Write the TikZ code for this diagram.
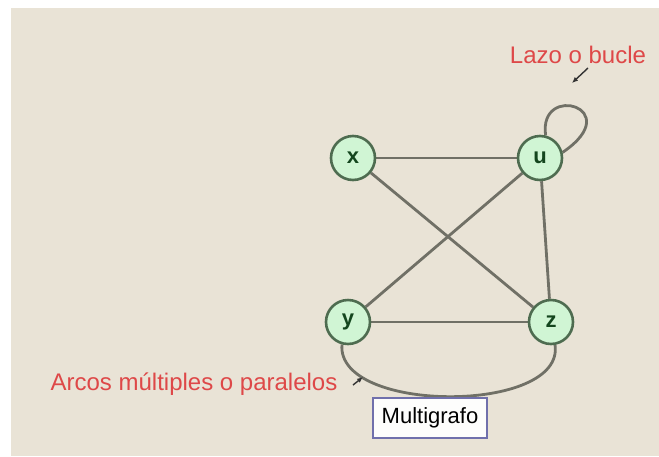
\documentclass[tikz,border=0pt]{standalone}
\usepackage{fontspec}
\setmainfont{Liberation Sans}
\usetikzlibrary{arrows.meta}
\pgfdeclarelayer{backdrop}
\pgfdeclarelayer{edges}
\pgfsetlayers{backdrop,edges,main}
\definecolor{paper}{RGB}{233,227,214}
\definecolor{vfill}{RGB}{208,245,212}
\definecolor{vdraw}{RGB}{78,108,80}
\definecolor{vtext}{RGB}{20,70,30}
\definecolor{edgec}{RGB}{112,112,102}
\definecolor{notec}{RGB}{222,72,72}
\definecolor{boxc}{RGB}{112,112,172}
\tikzset{
  vertex/.style={circle, minimum size=44pt, inner sep=0pt, fill=vfill, draw=vdraw,
    line width=2.6pt, text=vtext, font=\fontsize{22}{24}\selectfont\bfseries},
  edge/.style={draw=edgec, line width=2.8pt},
  note/.style={text=notec, font=\fontsize{24}{28}\selectfont, inner sep=0pt},
  pointer/.style={line width=1.4pt, -{Latex[length=6pt,width=5pt]}, black!80},
  titlebox/.style={draw=boxc, line width=2.4pt, fill=white!92!paper,
    minimum width=114pt, minimum height=40pt, font=\fontsize{22}{24}\selectfont,
    inner sep=0pt}
}
\begin{document}
\begin{tikzpicture}[x=1pt, y=-1pt]
  % page and backdrop
  \begin{pgfonlayer}{backdrop}
    \fill[white] (0,0) rectangle (659,456);
    \fill[paper] (11,8) rectangle (659,456);
  \end{pgfonlayer}
  \useasboundingbox (0,0) rectangle (659,456);

  % vertices
  \node[vertex] (x) at (353,158) {x};
  \node[vertex] (u) at (540,158) {u};
  \node[vertex] (y) at (348,322) {y};
  \node[vertex] (z) at (551,322) {z};

  % edges, kept under the vertices
  \begin{pgfonlayer}{edges}
    \path[edge] (x) -- (u);
    \path[edge] (x) -- (z);
    \path[edge] (u) -- (y);
    \path[edge] (u) -- (z);
    \path[edge] (y) -- (z);
    % parallel arc between y and z
    \path[edge] (y.-105) .. controls (336,414) and (565,414) .. (z.-80);
    % loop on u
    \path[edge] (u.76) .. controls (538,82) and (628,108) .. (u.14);
  \end{pgfonlayer}

  % annotations
  \node[note] (loopnote) at (578,55) {Lazo o bucle};
  \coordinate (loopfrom) at (588,68);
  \coordinate (looptip) at (572,83);
  \draw[pointer] (loopfrom) -- (looptip);

  \node[note] (arcnote) at (194,384) {Arcos múltiples o paralelos};
  \coordinate (arcfrom) at (353,385);
  \coordinate (arctip) at (363,377);
  \draw[pointer] (arcfrom) -- (arctip);

  \node[titlebox] (kind) at (430,418) {Multigrafo};
\end{tikzpicture}
\end{document}
